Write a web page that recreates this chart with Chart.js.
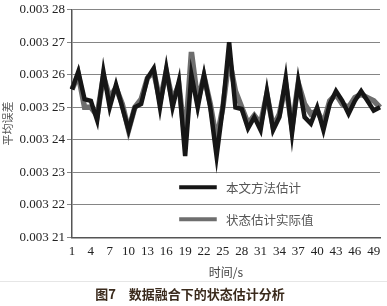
<!DOCTYPE html>
<html><head><meta charset="utf-8">
<script src="https://cdn.jsdelivr.net/npm/chart.js@4.4.1/dist/chart.umd.min.js"></script>
<style>html,body{margin:0;padding:0;background:#fff}#wrap{width:387px;height:306px;position:relative}canvas{display:block}</style>
</head><body><div id="wrap"><canvas id="c" width="387" height="306"></canvas></div>
<script>
const timeLabels = ['1','2','3','4','5','6','7','8','9','10','11','12','13','14','15','16','17','18','19','20','21','22','23','24','25','26','27','28','29','30','31','32','33','34','35','36','37','38','39','40','41','42','43','44','45','46','47','48','49','50'];
const estimateValues = [0.0032555,0.003261,0.0032525,0.003252,0.003246,0.003261,0.00325,0.003257,0.00325,0.003243,
  0.00325,0.003251,0.003259,0.003262,0.00325,0.003262,0.00325,0.003258,0.003235,0.00326,
  0.00325,0.00326,0.00325,0.003235,0.00325,0.00327,0.00325,0.0032495,0.0032435,0.003247,
  0.003243,0.003255,0.003243,0.003247,0.003259,0.003242,0.003258,0.003247,0.003245,0.00325,
  0.003243,0.003251,0.003255,0.003252,0.003248,0.003252,0.003255,0.003252,0.003249,0.00325];
const actualValues = [0.0032555,0.00326,0.00325,0.00325,0.0032475,0.0032595,0.003253,0.003256,0.003251,0.003243,
  0.00325,0.0032525,0.003259,0.003261,0.003252,0.003261,0.003252,0.003257,0.00324,0.003267,
  0.003252,0.0032595,0.003251,0.00324,0.00325,0.003265,0.003255,0.00325,0.003245,0.0032475,
  0.003245,0.003254,0.003244,0.003248,0.003257,0.003244,0.0032575,0.003251,0.003248,0.003249,
  0.003245,0.003252,0.003254,0.003251,0.00325,0.003253,0.003254,0.003253,0.003252,0.00325];
const seriesNames = ['本文方法估计', '状态估计实际值'];
const yMin = 0.00321, yMax = 0.00328, yStep = 0.00001;
const xTitle = '时间/s';
const yTitle = '平均误差';
const caption = '图7\u3000数据融合下的状态估计分析';

const legendPlugin = {
  id: 'innerLegend',
  afterDatasetsDraw(chart) {
    const {ctx, chartArea: a} = chart;
    const w = a.right - a.left, h = a.bottom - a.top;
    const x0 = a.left + w * 0.348, x1 = a.left + w * 0.47, tx = a.left + w * 0.5;
    const ys = [a.top + h * 0.78, a.top + h * 0.92];
    chart.data.datasets.forEach((ds, i) => {
      ctx.save();
      ctx.strokeStyle = ds.borderColor;
      ctx.lineWidth = 4;
      ctx.beginPath(); ctx.moveTo(x0, ys[i]); ctx.lineTo(x1, ys[i]); ctx.stroke();
      ctx.fillStyle = '#555';
      ctx.font = '12.5px "Noto Sans CJK SC"';
      ctx.textBaseline = 'middle';
      ctx.fillText(ds.label, tx, ys[i] + 1);
      ctx.restore();
    });
  },
  afterDraw(chart) {
    const {ctx} = chart;
    ctx.save();
    ctx.strokeStyle = '#e6e6e6';
    ctx.lineWidth = 1;
    ctx.beginPath(); ctx.moveTo(0, 281.5); ctx.lineTo(chart.width, 281.5); ctx.stroke();
    ctx.restore();
  }
};

new Chart(document.getElementById('c'), {
  type: 'line',
  data: {
    labels: timeLabels,
    datasets: [
      {label: seriesNames[0], data: estimateValues, borderColor: '#161616', borderWidth: 4.5, pointRadius: 0, tension: 0, fill: false},
      {label: seriesNames[1], data: actualValues, borderColor: '#6e6e6e', borderWidth: 5.5, pointRadius: 0, tension: 0, fill: false}
    ]
  },
  options: {
    responsive: false, animation: false, devicePixelRatio: 1,
    layout: {padding: {left: 0, right: 7, top: 0, bottom: 0}},
    plugins: {
      legend: {display: false}, tooltip: {enabled: false},
      title: {display: true, position: 'bottom', text: caption, color: '#3a2a1c',
        font: {family: '"Noto Sans CJK SC"', size: 13, weight: 'bold'}, padding: {top: 4, bottom: 4}}
    },
    scales: {
      x: {
        type: 'category', offset: false,
        grid: {display: false, drawTicks: false},
        border: {display: true, color: '#555', width: 1.5},
        ticks: {autoSkip: false, maxRotation: 0, minRotation: 0, padding: 6, color: '#222',
          font: {family: '"Liberation Serif"', size: 13},
          callback: function(v, i) { return i % 3 === 0 ? this.getLabelForValue(v) : ''; }},
        title: {display: true, text: xTitle, color: '#444', font: {family: '"Noto Sans CJK SC"', size: 12}, padding: {top: 0, bottom: 3}},
        afterFit(s) { s.height = 45; }
      },
      y: {
        min: yMin, max: yMax,
        grid: {color: '#858585', lineWidth: 1, tickLength: 5, drawTicks: true},
        border: {display: true, color: '#555', width: 1.5},
        ticks: {stepSize: yStep, padding: 2, color: '#222', font: {family: '"Liberation Serif"', size: 13},
          callback: (v) => { const s = (Math.round(v / yStep) * yStep).toFixed(5); return s.slice(0, 5) + ' ' + s.slice(5); }},
        title: {display: true, text: yTitle, color: '#555', font: {family: '"Noto Sans CJK SC"', size: 11}, padding: {top: 1, bottom: 0}},
        afterFit(s) { s.width = 72; }
      }
    }
  },
  plugins: [legendPlugin]
});
</script></body></html>
